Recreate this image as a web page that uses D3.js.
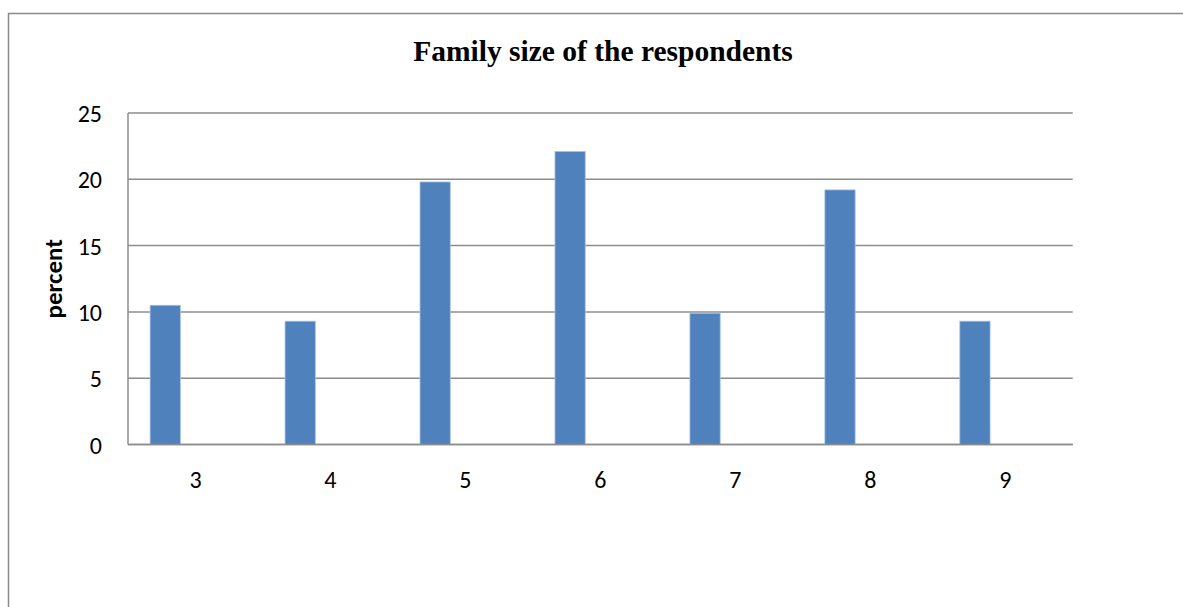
<!DOCTYPE html>
<html>
<head>
<meta charset="utf-8">
<script src="https://cdn.jsdelivr.net/npm/d3@7"></script>
<style>
  html, body { margin: 0; padding: 0; background: #fff; }
  svg { display: block; }
</style>
</head>
<body>
<svg id="chart" width="1183" height="607"></svg>
<script>
// Family size categories and share of respondents (%)
const categories = ["3", "4", "5", "6", "7", "8", "9"];
const percent = [10.5, 9.3, 19.8, 22.1, 9.9, 19.2, 9.3];
const yTicks = [0, 5, 10, 15, 20, 25];
// Series slots per category (only the first carries values)
const seriesSlots = ["percent", "slot2", "slot3"];

const svg = d3.select("#chart");
const W = 1183, H = 607;
const plot = { left: 128, right: 1072.7, top: 113, bottom: 444.5 };

// Outer chart frame (left and top edges visible)
svg.append("rect")
  .attr("x", 8.5).attr("y", 13.5)
  .attr("width", W + 20).attr("height", H + 20)
  .attr("fill", "none").attr("stroke", "#8a8a8a").attr("stroke-width", 1.5);

const x0 = d3.scaleBand().domain(categories).range([plot.left, plot.right]).paddingInner(0).paddingOuter(0);
const x1 = d3.scaleBand().domain(seriesSlots).range([0, x0.bandwidth()]).paddingInner(0).paddingOuter(0.73);
const y = d3.scaleLinear().domain([0, 25]).range([plot.bottom, plot.top]);

// Horizontal gridlines
svg.append("g")
  .selectAll("line")
  .data(yTicks)
  .join("line")
  .attr("x1", plot.left).attr("x2", plot.right)
  .attr("y1", d => y(d)).attr("y2", d => y(d))
  .attr("stroke", "#8c8c8c").attr("stroke-width", 1.5);

// Y axis line
svg.append("line")
  .attr("x1", plot.left).attr("x2", plot.left)
  .attr("y1", plot.top).attr("y2", plot.bottom)
  .attr("stroke", "#8c8c8c").attr("stroke-width", 1.5);

const labelFont = "Carlito, Calibri, Lato, 'Open Sans', sans-serif";

// Y tick labels
const yAxis = d3.axisLeft(y).tickValues(yTicks).tickSize(0).tickPadding(0);
const gy = svg.append("g").attr("transform", `translate(${plot.left - 26},0)`).call(yAxis);
gy.select(".domain").remove();
gy.selectAll("text")
  .attr("font-family", labelFont).attr("font-size", 24).attr("fill", "#000")
  .attr("dy", "0.36em");

// X tick labels
const xAxis = d3.axisBottom(x0).tickSize(0).tickPadding(0);
const gx = svg.append("g").attr("transform", `translate(0,${plot.bottom + 35})`).call(xAxis);
gx.select(".domain").remove();
gx.selectAll("text")
  .attr("font-family", labelFont).attr("font-size", 24).attr("fill", "#000")
  .attr("y", 0).attr("dy", "0.36em");

// Bars
svg.append("g")
  .selectAll("rect")
  .data(categories.map((c, i) => ({ c, v: percent[i] })))
  .join("rect")
  .attr("x", d => x0(d.c) + x1("percent"))
  .attr("width", x1.bandwidth())
  .attr("y", d => y(d.v))
  .attr("height", d => y(0) - y(d.v))
  .attr("fill", "#4f81bd")
  .attr("stroke", "#a9c2e2").attr("stroke-width", 0.8);

// Baseline over bars
svg.append("line")
  .attr("x1", plot.left).attr("x2", plot.right)
  .attr("y1", y(0)).attr("y2", y(0))
  .attr("stroke", "#8c8c8c").attr("stroke-width", 1.5);

// Y axis title
svg.append("text")
  .attr("transform", `translate(62,${(plot.top + plot.bottom) / 2}) rotate(-90)`)
  .attr("text-anchor", "middle")
  .attr("font-family", labelFont).attr("font-weight", "bold").attr("font-size", 25)
  .text("percent");

// Chart title
svg.append("text")
  .attr("x", 603).attr("y", 61)
  .attr("text-anchor", "middle")
  .attr("font-family", "'Liberation Serif', 'Times New Roman', serif")
  .attr("font-weight", "bold").attr("font-size", 29.5)
  .text("Family size of the respondents");
</script>
</body>
</html>
